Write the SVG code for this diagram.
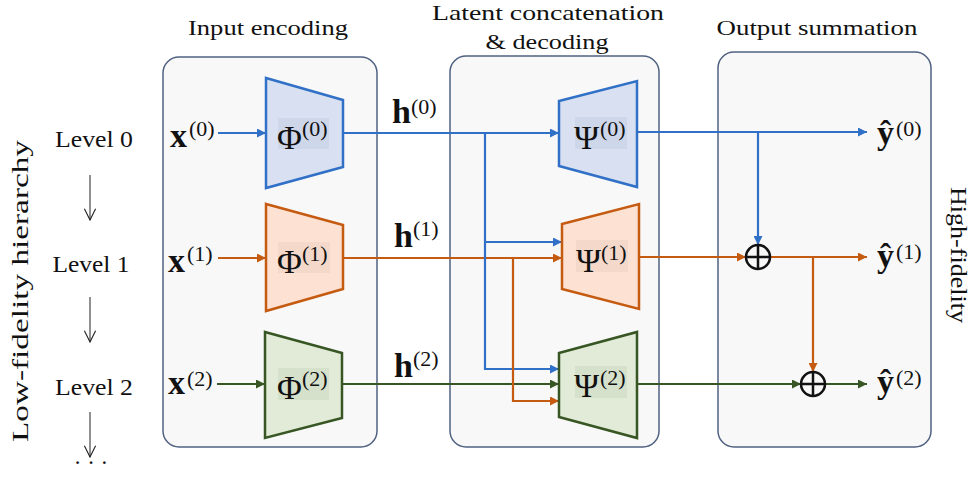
<svg xmlns="http://www.w3.org/2000/svg" width="972" height="482" viewBox="0 0 972 482">
<style>
.txt{font-family:"Liberation Serif","Times New Roman",serif;fill:#111;}
.hd{font-size:22px;}
.lv{font-size:23px;}
.m{font-size:34px;}
.mb{font-size:34px;font-weight:bold;}
.sup{font-size:22px;}
.panel{fill:#f8f8f8;stroke:#4f6181;stroke-width:1.5;}
.b{stroke:#3070c6;}
.o{stroke:#c55a11;}
.g{stroke:#375623;}
.ln{fill:none;stroke-width:2.2;}
.tb{fill:#d9e0f1;stroke:#3070c6;stroke-width:2.5;}
.to{fill:#fde2d3;stroke:#c55a11;stroke-width:2.5;}
.tg{fill:#e1ebd7;stroke:#375623;stroke-width:2.5;}
.bgb{fill:#ced6ea;}
.bgo{fill:#f4d9ca;}
.bgg{fill:#d6e1cc;}
.thin{fill:none;stroke:#222;stroke-width:1;}
.sum{fill:none;stroke:#111;stroke-width:2.5;}
</style>
<defs>
<marker id="ab" viewBox="0 0 10 10" refX="10" refY="5" markerWidth="10" markerHeight="9" markerUnits="userSpaceOnUse" orient="auto"><path d="M0,0 L10,5 L0,10 z" fill="#3070c6"/></marker>
<marker id="ao" viewBox="0 0 10 10" refX="10" refY="5" markerWidth="10" markerHeight="9" markerUnits="userSpaceOnUse" orient="auto"><path d="M0,0 L10,5 L0,10 z" fill="#c55a11"/></marker>
<marker id="ag" viewBox="0 0 10 10" refX="10" refY="5" markerWidth="10" markerHeight="9" markerUnits="userSpaceOnUse" orient="auto"><path d="M0,0 L10,5 L0,10 z" fill="#375623"/></marker>
<marker id="av" viewBox="0 0 10 10" refX="9" refY="5" markerWidth="14" markerHeight="14" markerUnits="userSpaceOnUse" orient="auto"><path d="M1,1 L9,5 L1,9" fill="none" stroke="#222" stroke-width="0.8"/></marker>
</defs>

<!-- side labels -->
<g id="side-labels">
<text class="txt lv" x="0" y="0" transform="translate(28,291) rotate(-90)" text-anchor="middle" textLength="302" lengthAdjust="spacingAndGlyphs">Low-fidelity hierarchy</text>
<text class="txt lv" x="0" y="0" transform="translate(951,255) rotate(90)" text-anchor="middle" textLength="136" lengthAdjust="spacingAndGlyphs">High-fidelity</text>
</g>

<g id="levels">
<text class="txt lv" x="94" y="147" text-anchor="middle" textLength="78" lengthAdjust="spacingAndGlyphs">Level 0</text>
<text class="txt lv" x="91" y="272" text-anchor="middle" textLength="77" lengthAdjust="spacingAndGlyphs">Level 1</text>
<text class="txt lv" x="94" y="395" text-anchor="middle" textLength="78" lengthAdjust="spacingAndGlyphs">Level 2</text>
<line class="thin" x1="90" y1="175" x2="90" y2="220" marker-end="url(#av)"/>
<line class="thin" x1="90" y1="297" x2="90" y2="342" marker-end="url(#av)"/>
<line class="thin" x1="90" y1="412" x2="90" y2="457" marker-end="url(#av)"/>
<text class="txt lv" x="91" y="470" text-anchor="middle">· · ·</text>
</g>

<!-- panels -->
<g id="panel-input">
<rect class="panel" x="163" y="57" width="214" height="390" rx="16"/>
<text class="txt hd" x="268" y="35" text-anchor="middle" textLength="160" lengthAdjust="spacingAndGlyphs">Input encoding</text>
</g>
<g id="panel-latent">
<rect class="panel" x="450" y="56" width="209" height="391" rx="16"/>
<text class="txt hd" x="548" y="20" text-anchor="middle" textLength="232" lengthAdjust="spacingAndGlyphs">Latent concatenation</text>
<text class="txt hd" x="547" y="49" text-anchor="middle" textLength="123" lengthAdjust="spacingAndGlyphs">&amp; decoding</text>
</g>
<g id="panel-output">
<rect class="panel" x="718" y="52" width="213" height="395" rx="16"/>
<text class="txt hd" x="817" y="35" text-anchor="middle" textLength="201" lengthAdjust="spacingAndGlyphs">Output summation</text>
</g>

<!-- connectors -->
<g id="connectors">
<line class="ln b" x1="218" y1="133" x2="266" y2="133" marker-end="url(#ab)"/>
<line class="ln o" x1="218" y1="258" x2="266" y2="258" marker-end="url(#ao)"/>
<line class="ln g" x1="217" y1="384" x2="265" y2="384" marker-end="url(#ag)"/>

<line class="ln b" x1="343" y1="133" x2="559" y2="133" marker-end="url(#ab)"/>
<line class="ln o" x1="343" y1="258" x2="562" y2="258" marker-end="url(#ao)"/>
<line class="ln g" x1="342" y1="384" x2="559" y2="384" marker-end="url(#ag)"/>

<polyline class="ln b" points="485,133 485,369 559,369" marker-end="url(#ab)"/>
<line class="ln b" x1="485" y1="242" x2="562" y2="242" marker-end="url(#ab)"/>
<polyline class="ln o" points="513,258 513,401 559,401" marker-end="url(#ao)"/>

<line class="ln b" x1="637" y1="132" x2="867" y2="132" marker-end="url(#ab)"/>
<line class="ln b" x1="758" y1="132" x2="758" y2="245" marker-end="url(#ab)"/>
<line class="ln o" x1="639" y1="257" x2="746" y2="257" marker-end="url(#ao)"/>
<line class="ln o" x1="770" y1="257" x2="867" y2="257" marker-end="url(#ao)"/>
<line class="ln o" x1="813" y1="257" x2="813" y2="372" marker-end="url(#ao)"/>
<line class="ln g" x1="637" y1="384" x2="801" y2="384" marker-end="url(#ag)"/>
<line class="ln g" x1="825" y1="384" x2="867" y2="384" marker-end="url(#ag)"/>
</g>

<!-- inputs -->
<g id="x0"><text class="txt mb" x="170" y="147">x</text><text class="txt sup" x="189" y="136">(0)</text></g>
<g id="x1"><text class="txt mb" x="168" y="272">x</text><text class="txt sup" x="187" y="261">(1)</text></g>
<g id="x2"><text class="txt mb" x="168" y="394">x</text><text class="txt sup" x="187" y="386">(2)</text></g>

<!-- encoders -->
<g id="phi0">
<polygon class="tb" points="266,78 343,100 343,167 266,188"/>
<rect class="bgb" x="278" y="118" width="51" height="31"/>
<text class="txt m" x="277" y="149">Φ</text><text class="txt sup" x="302" y="136">(0)</text>
</g>
<g id="phi1">
<polygon class="to" points="266,204 343,225 343,289 266,311"/>
<rect class="bgo" x="278" y="242" width="52" height="31"/>
<text class="txt m" x="277" y="273">Φ</text><text class="txt sup" x="302" y="261">(1)</text>
</g>
<g id="phi2">
<polygon class="tg" points="265,332 342,353 342,418 265,438"/>
<rect class="bgg" x="278" y="368" width="51" height="32"/>
<text class="txt m" x="277" y="399">Φ</text><text class="txt sup" x="302" y="386">(2)</text>
</g>

<!-- latent labels -->
<g id="h0"><text class="txt mb" x="392" y="123">h</text><text class="txt sup" x="411" y="114">(0)</text></g>
<g id="h1"><text class="txt mb" x="394" y="247">h</text><text class="txt sup" x="413" y="236">(1)</text></g>
<g id="h2"><text class="txt mb" x="394" y="377">h</text><text class="txt sup" x="413" y="366">(2)</text></g>

<!-- decoders -->
<g id="psi0">
<polygon class="tb" points="559,101 637,81 637,187 559,166"/>
<rect class="bgb" x="575" y="117" width="52" height="32"/>
<text class="txt m" x="574" y="149">Ψ</text><text class="txt sup" x="600" y="136">(0)</text>
</g>
<g id="psi1">
<polygon class="to" points="562,224 639,204 639,309 562,289"/>
<rect class="bgo" x="576" y="240" width="52" height="32"/>
<text class="txt m" x="576" y="272">Ψ</text><text class="txt sup" x="601" y="260">(1)</text>
</g>
<g id="psi2">
<polygon class="tg" points="559,353 637,332 637,438 559,417"/>
<rect class="bgg" x="575" y="366" width="52" height="32"/>
<text class="txt m" x="574" y="397">Ψ</text><text class="txt sup" x="600" y="385">(2)</text>
</g>

<!-- sums -->
<g id="sum1">
<circle class="sum" cx="758" cy="257" r="12"/>
<line class="sum" x1="746" y1="257" x2="770" y2="257"/><line class="sum" x1="758" y1="245" x2="758" y2="269"/>
</g>
<g id="sum2">
<circle class="sum" cx="813" cy="384" r="12"/>
<line class="sum" x1="801" y1="384" x2="825" y2="384"/><line class="sum" x1="813" y1="372" x2="813" y2="396"/>
</g>

<!-- outputs -->
<g id="y0"><text class="txt mb" x="877" y="144">ŷ</text><text class="txt sup" x="896" y="136">(0)</text></g>
<g id="y1"><text class="txt mb" x="877" y="267">ŷ</text><text class="txt sup" x="896" y="259">(1)</text></g>
<g id="y2"><text class="txt mb" x="877" y="393">ŷ</text><text class="txt sup" x="896" y="385">(2)</text></g>
</svg>
